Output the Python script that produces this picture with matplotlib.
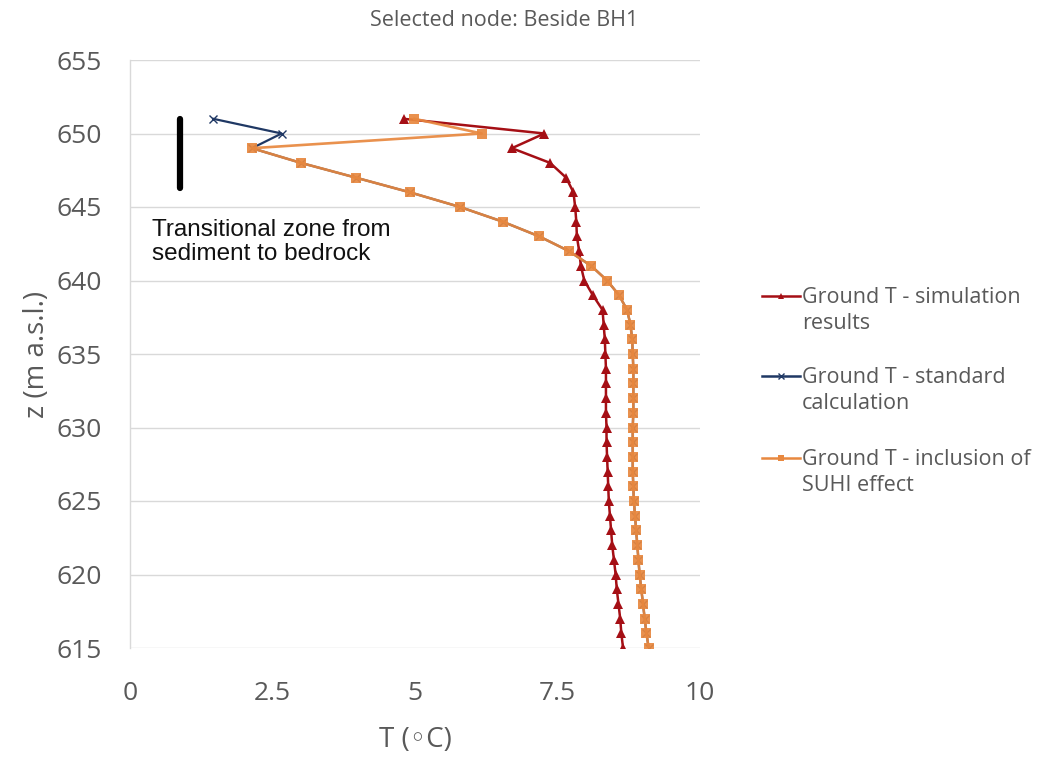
import matplotlib as mpl
import matplotlib.pyplot as plt
from matplotlib.lines import Line2D

# depth levels (m a.s.l.), 1 m spacing from the top of the profile
Z = list(range(651, 614, -1))

T_SIM = [4.80, 7.27, 6.70, 7.37, 7.65, 7.78, 7.81, 7.83, 7.84, 7.88, 7.91, 7.97,
         8.12, 8.29, 8.31, 8.33, 8.34, 8.35, 8.35, 8.35, 8.35, 8.36, 8.36, 8.37,
         8.38, 8.39, 8.40, 8.42, 8.44, 8.46, 8.49, 8.52, 8.54, 8.57, 8.60, 8.62, 8.65]

T_SUHI = [4.99, 6.17, 2.14, 3.00, 3.96, 4.91, 5.79, 6.54, 7.18, 7.70, 8.09, 8.37,
          8.58, 8.72, 8.78, 8.81, 8.82, 8.83, 8.83, 8.83, 8.83, 8.82, 8.82, 8.82,
          8.82, 8.83, 8.84, 8.86, 8.88, 8.90, 8.92, 8.94, 8.97, 9.00, 9.03, 9.06, 9.10]

# standard calculation departs only in the top two metres
T_STD = [1.46, 2.66] + T_SUHI[2:]

LABELS = ["Ground T - simulation\nresults",
          "Ground T - standard\ncalculation",
          "Ground T - inclusion of\nSUHI effect"]

X_TICKS = [0, 2.5, 5, 7.5, 10]
X_TICK_LABELS = ["0", "2.5", "5", "7.5", "10"]
Y_TICKS = list(range(615, 656, 5))

GREY = "#595959"
W, H = 1061, 768

mpl.rcParams.update({"font.family": ["Open Sans", "DejaVu Sans"]})

fig = plt.figure(figsize=(W / 100, H / 100), dpi=100)
ax = fig.add_axes([130 / W, 1 - 648 / H, 570 / W, 588 / H])

l_std, = ax.plot(T_STD, Z, color="#1f3864", lw=1.6, marker="x", ms=6, mew=1.0, zorder=2)
l_sim, = ax.plot(T_SIM, Z, color="#a50f15", lw=1.8, marker="^", ms=7, mew=0, zorder=3)
l_suhi, = ax.plot(T_SUHI, Z, color="#e8883f", lw=1.9, marker="s", ms=6.5, mew=0,
                  alpha=0.92, zorder=4)

ax.set_xlim(0, 10)
ax.set_ylim(615, 655)
ax.set_xticks(X_TICKS)
ax.set_xticklabels(X_TICK_LABELS)
ax.set_yticks(Y_TICKS)
ax.tick_params(length=0, labelsize=19, labelcolor=GREY)
ax.tick_params(axis="y", pad=20)
ax.tick_params(axis="x", pad=24)
ax.yaxis.grid(True, color="#d9d9d9", lw=1.0)
ax.set_axisbelow(True)
for side in ["top", "right", "bottom"]:
    ax.spines[side].set_visible(False)
ax.spines["left"].set_color("#d9d9d9")
ax.spines["left"].set_linewidth(1.0)

ax.set_xlabel("T (◦C)", fontsize=20, color=GREY, labelpad=14)
ax.set_ylabel("z (m a.s.l.)", fontsize=20, color=GREY, labelpad=4)
fig.text(504 / W, 1 - 21 / H, "Selected node: Beside BH1", fontsize=15.5, color=GREY,
         ha="center", va="center")

# marker for the sediment-to-bedrock transition
ax.plot([0.87, 0.87], [651.0, 646.3], color="black", lw=4.5, solid_capstyle="round",
        zorder=5)
ax.text(0.38, 644.2, "Transitional zone from\nsediment to bedrock",
        family="Liberation Sans", fontsize=17.5, color="#111111", va="top", ha="left",
        linespacing=1.15)

# legend drawn by hand so each handle sits on the first line of its label
legend_lines = [l_sim, l_std, l_suhi]
legend_y = [296, 376, 458]
for line, label, y in zip(legend_lines, LABELS, legend_y):
    yf = 1 - y / H
    fig.add_artist(Line2D([762 / W, 800 / W], [yf, yf], transform=fig.transFigure,
                          color=line.get_color(), lw=1.8))
    fig.add_artist(Line2D([781 / W], [yf], transform=fig.transFigure,
                          color=line.get_color(), marker=line.get_marker(),
                          ms=5, mew=1.0 if line.get_marker() == "x" else 0))
    fig.text(802 / W, 1 - (y + 14.5) / H, label, fontsize=15.5, color=GREY,
             ha="left", va="center", linespacing=1.3)

fig.savefig("out.png", dpi=100)
